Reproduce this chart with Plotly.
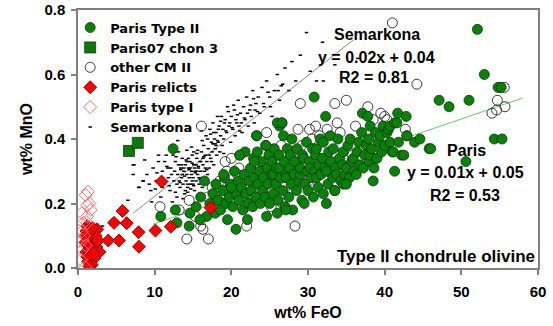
import plotly.graph_objects as go

# ---------------- data ----------------
paris_type2_x = [14.6, 15.4, 16.0, 16.5, 16.8, 17.2, 17.6, 17.9, 18.0, 15.9,
                 18.3, 18.6, 18.9, 19.1, 19.3, 19.5, 19.7, 19.9, 20.2, 20.4, 20.6, 20.7, 20.9, 21.0, 21.1, 21.3, 21.5, 21.7, 21.8, 21.9,
                 22.1, 22.2, 22.3, 22.5, 22.6, 22.8, 22.9, 23.0, 23.2, 23.3, 23.4, 23.5, 23.7, 23.8, 23.9, 24.1, 24.2, 24.4, 24.5, 24.6, 24.7, 24.8, 24.9, 25.0,
                 25.2, 25.3, 25.5, 25.5, 25.6, 25.8, 25.9, 26.0, 26.1, 26.2, 26.3, 26.3, 26.4, 26.6, 26.7, 26.8, 26.9, 27.0, 27.1, 27.2, 27.3, 27.5, 27.6, 27.7, 27.8, 27.9, 28.0,
                 28.2, 28.3, 28.5, 28.6, 28.8, 29.0, 29.0, 29.2, 29.3, 29.4, 29.5, 29.6, 29.8, 29.9, 30.0, 30.2, 30.3, 30.4, 30.6, 30.7, 30.8, 30.9, 31.0, 31.1, 31.1, 31.3, 31.4, 31.6, 31.7, 31.9, 32.0, 32.0,
                 32.2, 32.3, 32.4, 32.4, 32.6, 32.7, 32.9, 33.0, 33.2, 33.3, 33.5, 33.6, 33.7, 33.9, 34.1, 34.3, 34.5, 34.6, 34.6, 34.8, 35.0, 35.2, 35.4, 35.5, 35.7, 35.9, 36.0,
                 36.3, 36.4, 36.6, 36.8, 37.0, 37.1, 37.2, 37.4, 37.6, 37.8, 37.9, 38.0, 38.1, 38.1, 38.3, 38.5, 38.6, 38.8, 39.0, 39.2, 39.4, 39.6, 39.8, 40.0,
                 40.3, 40.5, 40.7, 40.7, 41.0, 41.1, 41.3, 41.3, 41.6, 41.7, 41.8, 42.2, 42.5, 42.8, 42.9, 43.9, 44.6, 45.8, 46.0,
                 47.1, 48.4, 50.6, 51.0, 52.1, 53.0, 54.3, 54.8, 55.2, 55.3,
                 10.8, 12.4, 12.7, 12.9, 14.5, 21.1, 23.3, 24.5, 26.0, 26.6, 27.1, 33.5, 35.0, 23.0, 20.0, 19.0]
paris_type2_y = [0.17, 0.19, 0.22, 0.27, 0.16, 0.20, 0.23, 0.17, 0.26, 0.15,
                 0.21, 0.18, 0.24, 0.28, 0.20, 0.15, 0.22, 0.26, 0.19, 0.30, 0.12, 0.23, 0.27, 0.21, 0.35, 0.25, 0.18, 0.29, 0.36, 0.23,
                 0.15, 0.20, 0.27, 0.31, 0.24, 0.19, 0.34, 0.28, 0.22, 0.41, 0.36, 0.26, 0.30, 0.20, 0.33, 0.24, 0.28, 0.22, 0.38, 0.16, 0.31, 0.26, 0.35, 0.20,
                 0.29, 0.33, 0.29, 0.23, 0.37, 0.26, 0.31, 0.17, 0.21, 0.35, 0.44, 0.31, 0.28, 0.45, 0.24, 0.41, 0.33, 0.19, 0.29, 0.28, 0.37, 0.22, 0.31, 0.35, 0.26, 0.40, 0.18,
                 0.29, 0.33, 0.24, 0.37, 0.27, 0.29, 0.31, 0.21, 0.35, 0.34, 0.20, 0.26, 0.39, 0.30, 0.24, 0.33, 0.31, 0.28, 0.37, 0.22, 0.53, 0.30, 0.35, 0.28, 0.37, 0.25, 0.32, 0.40, 0.29, 0.34, 0.39, 0.23,
                 0.31, 0.47, 0.30, 0.20, 0.26, 0.36, 0.41, 0.33, 0.28, 0.37, 0.24, 0.31, 0.29, 0.40, 0.34, 0.27, 0.32, 0.36, 0.26, 0.29, 0.31, 0.38, 0.28, 0.40, 0.33, 0.34, 0.30,
                 0.29, 0.36, 0.39, 0.32, 0.42, 0.48, 0.31, 0.35, 0.38, 0.47, 0.40, 0.33, 0.44, 0.35, 0.37, 0.27, 0.31, 0.42, 0.34, 0.39, 0.41, 0.36, 0.44, 0.38,
                 0.42, 0.43, 0.39, 0.44, 0.36, 0.36, 0.30, 0.45, 0.45, 0.48, 0.39, 0.35, 0.35, 0.47, 0.41, 0.39, 0.40, 0.37, 0.37,
                 0.52, 0.50, 0.33, 0.52, 0.74, 0.60, 0.40, 0.56, 0.56, 0.40,
                 0.16, 0.37, 0.18, 0.14, 0.13, 0.35, 0.41, 0.38, 0.45, 0.45, 0.18, 0.24, 0.26, 0.33, 0.25, 0.29]

paris07_x = [6.65, 7.8]
paris07_y = [0.363, 0.388]

other_cm2_x = [41.0, 44.2, 16.1, 24.6, 29.0, 33.5, 35.0, 37.8, 40.3, 30.2, 10.7, 14.2, 16.0, 17.0, 16.3, 28.3, 19.4, 20.8, 18.1,
               55.0, 55.6, 54.7, 55.7, 54.6, 54.0, 42.7, 42.9,
               17.5, 18.5, 19.0, 19.8, 20.3, 20.8, 21.4, 21.9, 22.4, 22.7, 23.3, 23.6, 24.0, 24.4, 25.0, 25.5, 25.9, 26.5, 27.0, 27.4,
               28.0, 28.4, 29.2, 29.7, 30.5, 31.0, 32.5, 33.8, 34.2, 36.2, 38.5, 39.5, 40.0, 18.8, 17.8, 16.9, 19.2, 21.0, 26.7, 30.1,
               35.8, 25.2, 22.0, 15.3, 31.5, 28.7, 20.0, 14.5, 13.2]
other_cm2_y = [0.76, 0.57, 0.44, 0.42, 0.51, 0.51, 0.52, 0.50, 0.46, 0.43, 0.19, 0.09, 0.13, 0.09, 0.12, 0.13, 0.30, 0.29, 0.24,
               0.56, 0.56, 0.52, 0.50, 0.49, 0.48, 0.43, 0.41,
               0.25, 0.27, 0.22, 0.25, 0.20, 0.24, 0.27, 0.19, 0.23, 0.28, 0.25, 0.32, 0.27, 0.30, 0.25, 0.34, 0.28, 0.38, 0.25, 0.32,
               0.36, 0.30, 0.38, 0.33, 0.40, 0.44, 0.43, 0.45, 0.42, 0.44, 0.46, 0.48, 0.47, 0.20, 0.18, 0.22, 0.33, 0.31, 0.20, 0.27,
               0.35, 0.19, 0.13, 0.16, 0.41, 0.43, 0.34, 0.21, 0.18]

paris_relicts_x = [10.9, 5.8, 4.7, 6.35, 7.9, 3.95, 5.35, 7.95, 10.1, 12.1, 17.3,
                   1.2, 1.5, 2.0, 2.5, 1.0, 1.6, 2.2, 1.3, 1.9, 2.8, 1.1, 1.6, 2.1, 1.3, 1.8, 1.5, 2.3, 1.0, 2.4, 1.7, 1.2, 2.0, 1.4, 1.9, 1.1, 2.6]
paris_relicts_y = [0.268, 0.177, 0.140, 0.139, 0.111, 0.085, 0.085, 0.066, 0.116, 0.128, 0.187,
                   0.13, 0.12, 0.11, 0.12, 0.10, 0.09, 0.09, 0.07, 0.07, 0.05, 0.05, 0.04, 0.03, 0.02, 0.01, 0.005, 0.10, 0.08, 0.065, 0.06, 0.035, 0.045, 0.11, 0.125, 0.115, 0.085]

paris_type1_x = [1.3, 1.0, 1.2, 1.65, 0.5, 1.2, 0.7, 0.5, 0.55, 0.6, 0.9, 0.4, 1.2, 1.5, 0.8, 1.0]
paris_type1_y = [0.237, 0.226, 0.195, 0.18, 0.17, 0.16, 0.14, 0.113, 0.087, 0.056, 0.003, 0.025, 0.14, 0.2, 0.1, 0.07]

semarkona_x = [3.2, 4.5, 5.8, 6.5, 7.2, 7.3, 8.0, 8.5, 9.0, 9.5, 9.8, 10.2, 10.5, 10.8, 11.0, 11.2, 11.5, 11.8, 12.0, 12.1,
               12.3, 12.5, 12.7, 12.9, 13.0, 13.1, 13.3, 13.4, 13.5, 13.6, 13.7, 13.8, 13.9, 14.0, 14.1, 14.2, 14.3, 14.4, 14.5, 14.6,
               14.7, 14.8, 14.9, 15.0, 15.1, 15.2, 15.3, 15.4, 15.5, 15.6, 15.7, 15.8, 15.9, 16.0, 16.1, 16.2, 16.3, 16.4, 16.5, 16.6,
               16.7, 16.8, 16.9, 17.0, 17.1, 17.2, 17.3, 17.4, 17.5, 17.6, 17.7, 17.8, 17.9, 18.0, 18.1, 18.2, 18.3, 18.4, 18.5, 18.6,
               18.7, 18.8, 18.9, 19.0, 19.2, 19.4, 19.5, 19.7, 19.9, 20.0, 20.2, 20.4, 20.5, 20.7, 20.9, 21.0, 21.2, 21.4, 21.6, 21.8,
               22.0, 22.2, 22.4, 22.6, 22.8, 23.0, 23.2, 23.5, 23.7, 24.0, 24.3, 24.6, 25.0, 25.3, 25.6, 26.0, 26.3, 26.7, 27.0, 27.5,
               27.9, 28.4, 29.0, 29.8, 30.3, 31.1, 31.9, 32.0, 33.5, 36.5,
               7.2, 10.5, 7.9, 8.5, 11.3, 12.6, 13.2, 13.8, 14.3, 14.8, 15.2, 15.8, 16.3, 13.5, 14.0, 14.6, 15.0, 15.5, 16.0, 12.9,
               13.6, 14.2, 14.9, 15.4, 16.6, 17.1, 12.2, 11.7, 10.9, 9.3, 16.9, 17.7, 18.3, 19.1, 19.8, 20.6, 21.3, 22.1, 23.1, 24.2,
               25.1, 26.1, 15.1, 14.4, 13.1, 16.2, 17.4, 11.0, 12.4, 18.0,
               13.3, 13.9, 14.5, 15.1, 15.7, 16.4, 14.1, 14.7, 15.3, 15.9, 13.7, 14.3, 14.9, 15.6, 16.2, 16.8, 17.3, 17.9, 18.6, 19.3,
               20.1, 20.8, 21.7, 22.5, 23.4, 12.8, 12.3, 11.6, 10.3, 9.6, 13.0, 14.8, 16.1, 17.6, 19.6, 21.1, 22.9, 24.8, 26.5, 8.7,
               15.5, 14.2, 13.4, 16.7, 18.2, 19.0, 20.3, 11.9, 12.7, 10.1]
semarkona_y = [0.13, 0.15, 0.19, 0.21, 0.32, 0.32, 0.25, 0.27, 0.29, 0.24, 0.31, 0.27, 0.33, 0.22, 0.30, 0.26, 0.35, 0.28, 0.24, 0.31,
               0.38, 0.27, 0.33, 0.22, 0.29, 0.36, 0.25, 0.31, 0.28, 0.34, 0.26, 0.30, 0.23, 0.32, 0.27, 0.29, 0.25, 0.31, 0.28, 0.33,
               0.26, 0.30, 0.35, 0.28, 0.32, 0.24, 0.30, 0.27, 0.34, 0.29, 0.31, 0.26, 0.33, 0.30, 0.36, 0.28, 0.32, 0.38, 0.30, 0.35,
               0.41, 0.33, 0.29, 0.37, 0.31, 0.43, 0.34, 0.39, 0.36, 0.45, 0.32, 0.40, 0.37, 0.42, 0.35, 0.47, 0.39, 0.44, 0.36, 0.41,
               0.47, 0.38, 0.43, 0.40, 0.46, 0.42, 0.50, 0.44, 0.39, 0.47, 0.43, 0.49, 0.41, 0.45, 0.52, 0.44, 0.48, 0.42, 0.50, 0.46,
               0.53, 0.44, 0.49, 0.47, 0.55, 0.45, 0.51, 0.53, 0.48, 0.56, 0.50, 0.58, 0.53, 0.47, 0.55, 0.60, 0.52, 0.57, 0.62, 0.55,
               0.64, 0.58, 0.66, 0.73, 0.61, 0.58, 0.70, 0.58, 0.63, 0.65,
               0.29, 0.35, 0.25, 0.27, 0.33, 0.30, 0.27, 0.31, 0.26, 0.29, 0.31, 0.28, 0.34, 0.32, 0.24, 0.31, 0.26, 0.30, 0.33, 0.26,
               0.29, 0.33, 0.27, 0.32, 0.31, 0.35, 0.29, 0.31, 0.28, 0.26, 0.40, 0.42, 0.43, 0.45, 0.45, 0.46, 0.45, 0.48, 0.49, 0.51,
               0.50, 0.55, 0.36, 0.34, 0.32, 0.25, 0.33, 0.25, 0.35, 0.38,
               0.265, 0.285, 0.305, 0.255, 0.315, 0.345, 0.335, 0.245, 0.295, 0.275, 0.215, 0.235, 0.325, 0.365, 0.395, 0.305, 0.415, 0.385, 0.455, 0.425,
               0.435, 0.475, 0.465, 0.505, 0.485, 0.345, 0.205, 0.315, 0.295, 0.205, 0.395, 0.375, 0.425, 0.385, 0.485, 0.425, 0.525, 0.545, 0.565, 0.335,
               0.355, 0.365, 0.305, 0.275, 0.395, 0.355, 0.505, 0.255, 0.235, 0.245]

semarkona_fit_x = [7.2, 35.9]
semarkona_fit_y = [0.170, 0.707]
paris_fit_x = [9.8, 58.0]
paris_fit_y = [0.136, 0.527]

x_ticks = [0, 10, 20, 30, 40, 50, 60]
y_ticks = [0.0, 0.2, 0.4, 0.6, 0.8]

# ---------------- figure ----------------
LEG_FONT = dict(family="DejaVu Sans", size=13, color="black", weight="bold")
TXT_FONT = dict(family="Liberation Sans, Arial", size=16, color="black", weight="bold")

fig = go.Figure()

fig.add_trace(go.Scatter(x=semarkona_fit_x, y=semarkona_fit_y, mode="lines",
                         line=dict(color="#8a8a8a", width=1), showlegend=False, hoverinfo="skip"))
fig.add_trace(go.Scatter(x=paris_fit_x, y=paris_fit_y, mode="lines",
                         line=dict(color="#6cc46c", width=1), showlegend=False, hoverinfo="skip"))

fig.add_trace(go.Scatter(x=semarkona_x, y=semarkona_y, mode="markers", name="Semarkona", legendrank=6,
                         marker=dict(symbol="line-ew", size=2.5, line=dict(color="black", width=1.5))))
fig.add_trace(go.Scatter(x=other_cm2_x, y=other_cm2_y, mode="markers", name="other CM II", legendrank=3,
                         marker=dict(symbol="circle-open", size=10, color="#3a3a3a", line=dict(width=1))))
fig.add_trace(go.Scatter(x=paris_type2_x, y=paris_type2_y, mode="markers", name="Paris Type II", legendrank=1,
                         marker=dict(symbol="circle", size=10, color="#078207", line=dict(color="#143214", width=0.8))))
fig.add_trace(go.Scatter(x=paris_relicts_x, y=paris_relicts_y, mode="markers", name="Paris relicts", legendrank=4,
                         marker=dict(symbol="diamond", size=10, color="#ff0000", line=dict(color="#5a0000", width=0.8))))
fig.add_trace(go.Scatter(x=paris_type1_x, y=paris_type1_y, mode="markers", name="Paris type I", legendrank=5,
                         marker=dict(symbol="diamond-open", size=10, color="#ff7070", line=dict(width=1))))
fig.add_trace(go.Scatter(x=paris07_x, y=paris07_y, mode="markers", name="Paris07 chon 3", legendrank=2,
                         marker=dict(symbol="square", size=11, color="#0a7a0a", line=dict(color="#143214", width=0.8))))

annots = [
    ("Semarkona", 39.06, 0.7225, "center"),
    ("y = 0.02x + 0.04", 38.93, 0.654, "center"),
    ("R2 = 0.81", 38.6, 0.592, "center"),
    ("Paris", 50.67, 0.363, "center"),
    ("y = 0.01x + 0.05", 50.6, 0.295, "center"),
    ("R2 = 0.53", 50.5, 0.226, "center"),
]
for t, ax, ay, anc in annots:
    fig.add_annotation(x=ax, y=ay, text=t, showarrow=False, xanchor=anc, yanchor="middle", font=TXT_FONT)
fig.add_annotation(x=59.9, y=0.037, text="Type II chondrule olivine", showarrow=False,
                   xanchor="right", yanchor="middle", font=dict(TXT_FONT, size=17))

axis_common = dict(showgrid=False, zeroline=False, showline=True, linecolor="#808080", linewidth=1.5,
                   mirror=True, ticks="outside", ticklen=5, tickwidth=1.5, tickcolor="#808080",
                   tickfont=dict(family="Liberation Sans, Arial", size=15, color="black", weight="bold"))

fig.update_xaxes(range=[0, 60], tickvals=x_ticks, ticklabelstandoff=4,
                 title=dict(text="wt% FeO", font=dict(family="Liberation Sans, Arial", size=16, color="black", weight="bold"), standoff=8),
                 **axis_common)
fig.update_yaxes(range=[0, 0.8], tickvals=y_ticks, tickformat=".1f", ticklabelstandoff=3,
                 title=dict(text="wt% MnO", font=dict(family="Liberation Sans, Arial", size=16, color="black", weight="bold"), standoff=8),
                 **axis_common)

fig.update_layout(
    width=553, height=326,
    margin=dict(l=78, r=15, t=10, b=58, autoexpand=False),
    paper_bgcolor="white", plot_bgcolor="white",
    showlegend=True,
    legend=dict(x=-0.017, y=0.99, xanchor="left", yanchor="top", bgcolor="rgba(0,0,0,0)",
                font=LEG_FONT, borderwidth=0, tracegroupgap=0, itemwidth=30),
)

fig.write_html("out.html", config={"displayModeBar": False},
               post_script="document.body.style.margin='0';document.body.style.overflow='hidden';")
